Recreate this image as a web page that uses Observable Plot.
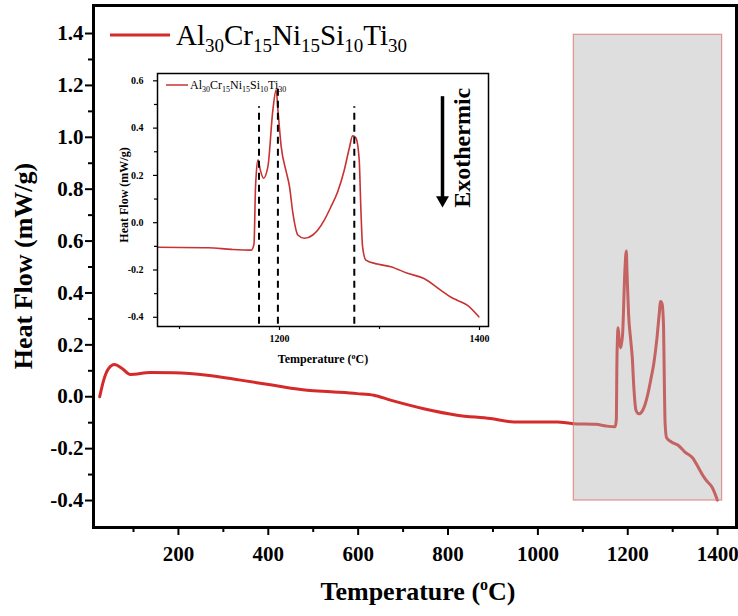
<!DOCTYPE html>
<html><head><meta charset="utf-8">
<script src="https://cdn.jsdelivr.net/npm/d3@7"></script>
<script src="https://cdn.jsdelivr.net/npm/@observablehq/plot@0.6"></script>
<style>
body{margin:0;background:#fff;}
#wrap{position:relative;width:738px;height:616px;overflow:hidden;}
#main{position:absolute;left:0;top:0;}
#inset{position:absolute;left:112px;top:62px;}
</style></head><body>
<div id="wrap"><div id="main"></div><div id="inset"></div></div>
<script>
// ---- data ----
const temperature = [24.8,33.7,44.8,57.5,74.7,93,137.7,189.6,263.9,338,412,486.5,538.4,597.8,634.8,672,746,820,894.6,946.5,1043,1078.8,1128.6,1151.9,1171.8,1174.5,1176,1176.8,1178.5,1180.8,1184,1188.4,1193.4,1196.7,1198.4,1201.7,1206.7,1210,1213.4,1218.3,1225,1233.3,1238.3,1244.8,1251.5,1258.2,1264.8,1269.8,1273.1,1276.4,1279.7,1281.4,1283.1,1286.4,1298,1311.3,1327.9,1344.5,1361.1,1371.1,1377.7,1387.7,1399.3];
const heatFlow = [0.0,0.064,0.109,0.124,0.109,0.086,0.093,0.092,0.083,0.064,0.044,0.025,0.019,0.012,0.006,-0.013,-0.046,-0.071,-0.084,-0.097,-0.097,-0.104,-0.106,-0.113,-0.116,-0.09,0.15,0.209,0.266,0.223,0.188,0.237,0.478,0.562,0.478,0.322,0.216,0.153,0.040,-0.052,-0.066,-0.052,-0.031,0.011,0.068,0.131,0.223,0.315,0.367,0.358,0.266,0.054,-0.102,-0.158,-0.175,-0.186,-0.214,-0.236,-0.285,-0.314,-0.328,-0.349,-0.398];
const seriesName = ["Al","30","Cr","15","Ni","15","Si","10","Ti","30"];
const xTicks = [200,400,600,800,1000,1200,1400];
const xMinorTicks = [100,300,500,700,900,1100,1300];
const yTicks = [-0.4,-0.2,0.0,0.2,0.4,0.6,0.8,1.0,1.2,1.4];
const yMinorTicks = [-0.3,-0.1,0.1,0.3,0.5,0.7,0.9,1.1,1.3];
const zoomBox = [{x1:1080,x2:1410,y1:-0.4,y2:1.395}];
const insetXTicks = [1200,1400];
const insetXMinorTicks = [1100,1300];
const insetYTicks = [-0.4,-0.2,0.0,0.2,0.4,0.6];
const insetYMinorTicks = [-0.3,-0.1,0.1,0.3,0.5];
const peakTemps = [1179.5,1198.4,1274.8];
const peakTops = [0.49,0.58,0.49];
const peakBottom = -0.43;
const exoArrow = [{x:1363,y1:0.533,y2:0.096}];
const exoLabel = [{x:1383,y:0.317,text:"Exothermic"}];

// ---- build ----
const data = temperature.map((t,i)=>({t, hf: heatFlow[i]}));
const serif = "'Liberation Serif','Times New Roman',serif";
const red = "#d42a2a";

const main = Plot.plot({
  width:738, height:616, marginLeft:93, marginRight:2, marginTop:5, marginBottom:89,
  style:{fontFamily:serif, fontWeight:"bold", background:"transparent", color:"black"},
  x:{domain:[11,1442]},
  y:{domain:[-0.504,1.508]},
  marks:[
    Plot.line(data,{x:"t",y:"hf",stroke:red,strokeWidth:3,curve:"monotone-x"}),
    Plot.rect(zoomBox,{x1:"x1",x2:"x2",y1:"y1",y2:"y2",fill:"#b0b0b0",fillOpacity:0.42,stroke:"#e07a7a",strokeOpacity:0.8,strokeWidth:1.2}),
    Plot.axisX({ticks:xTicks, tickSize:8, tickPadding:11, fontSize:21, strokeWidth:2, label:null, tickFormat:d=>String(d)}),
    Plot.axisX({ticks:xMinorTicks, tickSize:5, strokeWidth:2, label:null, tickFormat:()=>""}),
    Plot.axisY({ticks:yTicks, tickSize:8, tickPadding:2, fontSize:21, strokeWidth:2, label:null, tickFormat:d=>d.toFixed(1)}),
    Plot.axisY({ticks:yMinorTicks, tickSize:5, strokeWidth:2, label:null, tickFormat:()=>""}),
    Plot.frame({stroke:"black", strokeWidth:3})
  ]
});
document.getElementById("main").appendChild(main);

const ms = d3.select(main);
// axis titles
ms.append("text").attr("transform","translate(32,266) rotate(-90)")
  .attr("text-anchor","middle").attr("font-size",26).attr("font-weight","bold")
  .attr("font-family",serif).attr("fill","black").text("Heat Flow (mW/g)");
{
  const t = ms.append("text").attr("x",418).attr("y",600).attr("text-anchor","middle")
    .attr("font-size",26).attr("font-weight","bold").attr("font-family",serif).attr("fill","black");
  t.append("tspan").text("Temperature (");
  t.append("tspan").attr("font-size",16).attr("dy",-10).text("o");
  t.append("tspan").attr("dy",10).text("C)");
}
// legend
function legend(sel, x0, x1, ly, tx, ty, fs, sfs, sdy, color, sw){
  sel.append("line").attr("x1",x0).attr("x2",x1).attr("y1",ly).attr("y2",ly)
    .attr("stroke",color).attr("stroke-width",sw);
  const t = sel.append("text").attr("x",tx).attr("y",ty).attr("font-size",fs)
    .attr("text-anchor","start")
    .attr("font-weight","normal").attr("font-family",serif).attr("fill","black");
  seriesName.forEach((s,i)=>{
    if(i%2===0) t.append("tspan").attr("dy", i===0?0:-sdy).attr("font-size",fs).text(s);
    else t.append("tspan").attr("dy", sdy).attr("font-size",sfs).text(s);
  });
}
legend(ms.append("g"),110,170,35,176,45,29,19,7,red,3);

// ---- inset ----
const insetData = data.filter(d=>d.t>=1078);
const peaks = peakTemps.map((t,i)=>({t, top:peakTops[i], bottom:peakBottom}));
const inset = Plot.plot({
  width:390, height:310, marginLeft:45, marginRight:14, marginTop:11, marginBottom:46,
  style:{fontFamily:serif, fontWeight:"bold", background:"transparent", color:"black"},
  x:{domain:[1078,1409]},
  y:{domain:[-0.439,0.631]},
  marks:[
    Plot.line(insetData,{x:"t",y:"hf",stroke:"#c83232",strokeWidth:1.6,curve:"monotone-x"}),
    Plot.ruleX(peaks,{x:"t",y1:"bottom",y2:"top",stroke:"black",strokeWidth:2,strokeDasharray:"7,5"}),
    Plot.ruleX(exoArrow,{x:"x",y1:"y1",y2:"y2",stroke:"black",strokeWidth:3.5}),
    Plot.dot(exoArrow,{x:"x",y:"y2",symbol:"triangle",r:4.8,rotate:180,fill:"black",stroke:"none"}),
    Plot.text(exoLabel,{x:"x",y:"y",text:"text",rotate:-90,fontSize:24,fontWeight:"bold",fill:"black"}),
    Plot.axisX({ticks:insetXTicks, tickSize:4, tickPadding:4, fontSize:10, strokeWidth:1.2, label:null, tickFormat:d=>String(d)}),
    Plot.axisX({ticks:insetXMinorTicks, tickSize:3, strokeWidth:1.2, label:null, tickFormat:()=>""}),
    Plot.axisY({ticks:insetYTicks, tickSize:4, tickPadding:10, fontSize:10, strokeWidth:1.2, label:null, tickFormat:d=>d.toFixed(1)}),
    Plot.axisY({ticks:insetYMinorTicks, tickSize:3, strokeWidth:1.2, label:null, tickFormat:()=>""}),
    Plot.frame({stroke:"black", strokeWidth:1.5})
  ]
});
document.getElementById("inset").appendChild(inset);
const is = d3.select(inset);
is.append("text").attr("transform","translate(16,133) rotate(-90)")
  .attr("text-anchor","middle").attr("font-size",12).attr("font-weight","bold")
  .attr("font-family",serif).attr("fill","black").text("Heat Flow (mW/g)");
{
  const t = is.append("text").attr("x",211).attr("y",301).attr("text-anchor","middle")
    .attr("font-size",12).attr("font-weight","bold").attr("font-family",serif).attr("fill","black");
  t.append("tspan").text("Temperature (");
  t.append("tspan").attr("font-size",8).attr("dy",-4).text("o");
  t.append("tspan").attr("dy",4).text("C)");
}
legend(is.insert("g",":first-child"),54,76,23,78,27,12,8,3,"#c83232",1.5);
</script>
</body></html>
